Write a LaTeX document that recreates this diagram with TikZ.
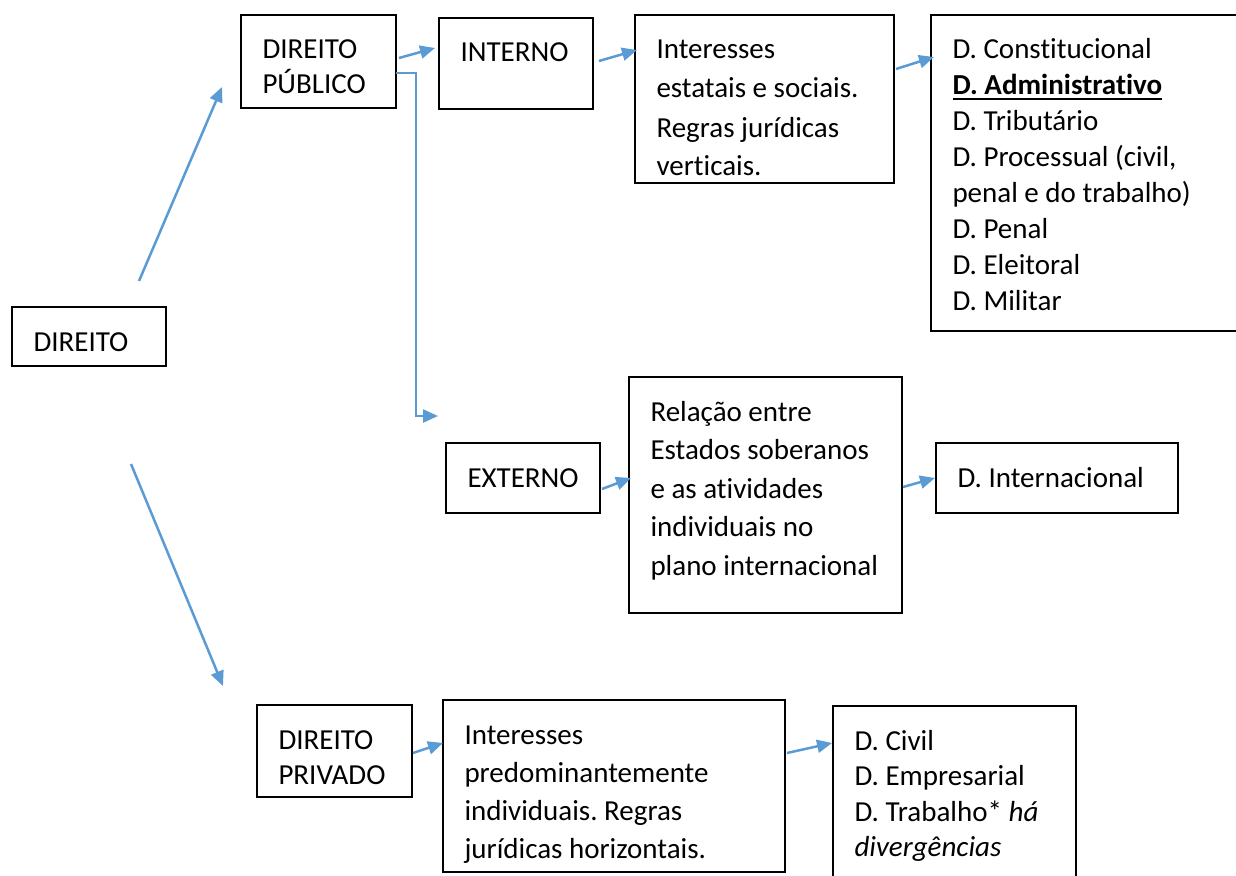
\documentclass[tikz,border=0pt]{standalone}
\usepackage{fontspec}
\setmainfont{Carlito}[Ligatures=NoCommon]
\usetikzlibrary{arrows.meta,calc}
\definecolor{arrowblue}{RGB}{91,155,213}
\frenchspacing

% left-aligned lines with a fixed distance between baselines
\newcommand\linestack[2]{\vtop{\baselineskip=#1\lineskiplimit=-1000pt\lineskip=0pt\let\\=\cr\halign{##\hfil\cr#2\crcr}}}
% bold text with a heavy underline
\newcommand\ulbf[1]{\setbox0=\hbox{\bfseries #1}\rlap{\rule[-5pt]{\wd0}{2pt}}\box0}
% framed box with its text set from the top-left corner
\newcommand\textbox[7]{%
  \node[box, minimum width=#4pt, minimum height=#5pt] (#1) at (#2,#3) {};
  \node[txt] (#1-text) at ($(#1.north west)+(21.5,44)$) {\linestack{#6pt}{#7}};}

\tikzset{
  box/.style={draw=black, line width=2pt, rectangle, anchor=north west, inner sep=0pt, outer sep=0pt},
  txt/.style={anchor=base west, inner sep=0pt, outer sep=0pt, font=\fontsize{29}{35}\selectfont},
  link/.style={draw=arrowblue, line width=2.5pt, -{Triangle[length=15pt,width=13pt]}},
}

\begin{document}
\begin{tikzpicture}[x=1pt, y=-1pt]
\useasboundingbox[fill=white] (0,0) rectangle (1236,875);

% boxes
\textbox{dir}{12}{307}{154}{59}{35.9}{DIREITO}
\textbox{dpub}{241}{15}{155}{93}{35}{DIREITO\\PÚBLICO}
\textbox{int}{439}{18}{154}{91}{35.9}{INTERNO}
\textbox{ies}{635}{15}{259}{168}{39}{Interesses\\estatais e sociais.\\Regras jurídicas\\verticais.}
\textbox{dcon}{931}{15}{309}{316}{35.9}{D. Constitucional\\\ulbf{D. Administrativo}\\D. Tributário\\D. Processual (civil,\\penal e do trabalho)\\D. Penal\\D. Eleitoral\\D. Militar}
\textbox{ext}{446}{443}{154}{70}{35.9}{EXTERNO}
\textbox{rel}{629}{377}{273}{236}{38.6}{Relação entre\\Estados soberanos\\e as atividades\\individuais no\\plano internacional}
\textbox{dint}{936}{443}{242}{70}{35.9}{D. Internacional}
\textbox{dpriv}{257}{705}{155}{92}{35}{DIREITO\\PRIVADO}
\textbox{ipr}{443}{700}{342}{172}{38}{Interesses\\predominantemente\\individuais. Regras\\jurídicas horizontais.}
\textbox{dciv}{833}{706}{243}{180}{35.5}{D. Civil\\D. Empresarial\\D. Trabalho* \textit{há}\\\textit{divergências}}

% connector ends
\coordinate (a1s) at (139,281);  \coordinate (a1e) at (222,87);
\coordinate (a2s) at (131,464);  \coordinate (a2e) at (223,686);
\coordinate (a3s) at (399,58);   \coordinate (a3e) at (435,48);
\coordinate (a4s) at (599,61);   \coordinate (a4e) at (637,50);
\coordinate (a5s) at (896,69);   \coordinate (a5e) at (934,57);
\coordinate (a6s) at (396,73);   \coordinate (a6e) at (438,416);
\coordinate (a7s) at (602,489);  \coordinate (a7e) at (631,478);
\coordinate (a8s) at (903,487);  \coordinate (a8e) at (935,478);
\coordinate (a9s) at (413,753);  \coordinate (a9e) at (443,743);
\coordinate (a10s) at (787,753); \coordinate (a10e) at (832,743);

% connectors
\draw[link] (a1s) -- (a1e);
\draw[link] (a2s) -- (a2e);
\draw[link] (a3s) -- (a3e);
\draw[link] (a4s) -- (a4e);
\draw[link] (a5s) -- (a5e);
\draw[link] (a6s) -- ++(20,0) |- (a6e);
\draw[link] (a7s) -- (a7e);
\draw[link] (a8s) -- (a8e);
\draw[link] (a9s) -- (a9e);
\draw[link] (a10s) -- (a10e);
\end{tikzpicture}
\end{document}
